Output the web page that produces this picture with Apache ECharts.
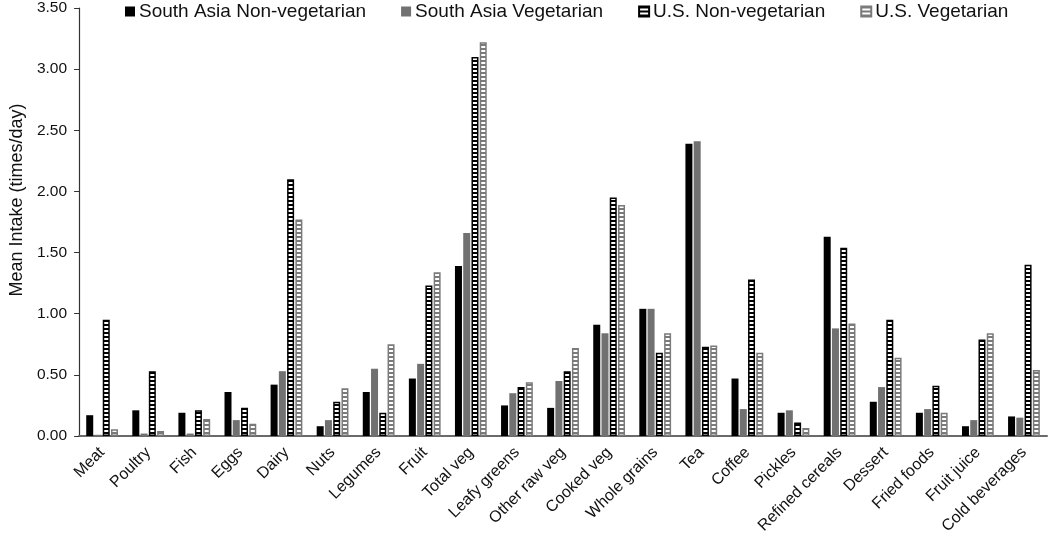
<!DOCTYPE html>
<html>
<head>
<meta charset="utf-8">
<script src="https://cdn.jsdelivr.net/npm/echarts@6/dist/echarts.min.js"></script>
<style>
html,body{margin:0;padding:0;background:#fff;}
#chart{width:1050px;height:542px;}
</style>
</head>
<body>
<div id="chart"></div>
<script>
const categories = ["Meat","Poultry","Fish","Eggs","Dairy","Nuts","Legumes","Fruit","Total veg","Leafy greens","Other raw veg","Cooked veg","Whole grains","Tea","Coffee","Pickles","Refined cereals","Dessert","Fried foods","Fruit juice","Cold beverages"];
const seriesNames = ["South Asia Non-vegetarian","South Asia Vegetarian","U.S. Non-vegetarian","U.S. Vegetarian"];
const saNonVeg = [0.17,0.21,0.19,0.36,0.42,0.08,0.36,0.47,1.39,0.25,0.23,0.91,1.04,2.39,0.47,0.19,1.63,0.28,0.19,0.08,0.16];
const saVeg    = [0.01,0.02,0.02,0.13,0.53,0.13,0.55,0.59,1.66,0.35,0.45,0.84,1.04,2.41,0.22,0.21,0.88,0.40,0.22,0.13,0.15];
const usNonVeg = [0.95,0.53,0.21,0.23,2.10,0.28,0.19,1.23,3.10,0.40,0.53,1.95,0.68,0.73,1.28,0.11,1.54,0.95,0.41,0.79,1.40];
const usVeg    = [0.055,0.04,0.14,0.10,1.77,0.39,0.75,1.34,3.22,0.44,0.72,1.89,0.84,0.74,0.68,0.065,0.92,0.64,0.19,0.84,0.54];
const yTicks = {min:0, max:3.5, interval:0.5};

function stripe(dark){
  const c = document.createElement('canvas');
  c.width = 4; c.height = 4;
  const ctx = c.getContext('2d');
  ctx.fillStyle = '#fff'; ctx.fillRect(0,0,4,4);
  ctx.fillStyle = dark; ctx.fillRect(0,0,4,2);
  return c;
}
const font = '"Liberation Sans", Arial, sans-serif';
const chart = echarts.init(document.getElementById('chart'), null, {renderer:'canvas'});
const styles = [
  {color:'#000', borderColor:'#000', borderWidth:0},
  {color:'#717171', borderColor:'#717171', borderWidth:0},
  {color:{image:stripe('#000'), repeat:'repeat'}, borderColor:'#000', borderWidth:1.5},
  {color:{image:stripe('#7a7a7a'), repeat:'repeat'}, borderColor:'#7a7a7a', borderWidth:1.5}
];
const data = [saNonVeg, saVeg, usNonVeg, usVeg];
chart.setOption({
  animation:false,
  backgroundColor:'#fff',
  legend:{
    top:2, left:120, padding:[0,5],
    itemWidth:10, itemHeight:10, itemGap:35,
    icon:'rect',
    textStyle:{fontFamily:font, fontSize:19, color:'#111', padding:[0,0,0,-1]},
    data:seriesNames
  },
  grid:{left:77, right:3, top:8, bottom:106, containLabel:false},
  xAxis:{
    type:'category', data:categories,
    axisLine:{lineStyle:{color:'#6a6a6a', width:2}},
    axisTick:{show:false},
    axisLabel:{interval:0, rotate:45, margin:14, fontFamily:font, fontSize:16, color:'#111'}
  },
  yAxis:{
    type:'value', min:yTicks.min, max:yTicks.max, interval:yTicks.interval,
    name:'Mean Intake (times/day)', nameLocation:'middle', nameGap:50,
    nameTextStyle:{fontFamily:font, fontSize:18, color:'#111', padding:[0,0,0,44]},
    axisLine:{show:true, lineStyle:{color:'#333', width:1.2}},
    axisTick:{show:true, length:5, lineStyle:{color:'#333'}},
    splitLine:{show:false},
    axisLabel:{margin:12, fontFamily:font, fontSize:15.5, color:'#111', formatter:v=>v.toFixed(2)}
  },
  series: seriesNames.map((n,i)=>({
    name:n, type:'bar', data:data[i], barWidth:7, barGap:'18%',
    itemStyle:styles[i]
  }))
});
</script>
</body>
</html>
